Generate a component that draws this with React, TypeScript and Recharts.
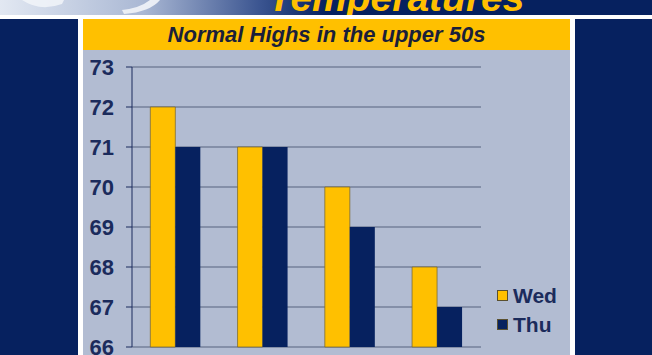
import { Bar, BarChart, CartesianGrid, Legend, ReferenceLine, XAxis, YAxis } from "recharts";

// four forecast points (no labels shown on the slide)
const stations = ["A", "B", "C", "D"];
const wedHighs = [72, 71, 70, 68];
const thuHighs = [71, 71, 69, 67];
const seriesOrder = ["Wed", "Thu"];
const yTicks = [66, 67, 68, 69, 70, 71, 72, 73];
const edgeTicks = [0, 1, 2, 3, 4];

const NAVY = "#06215f";
const GOLD = "#ffc000";
const PANEL = "#b2bcd2";
const INK = "#1b2b5c";
const FONT = "'Liberation Sans', Arial, sans-serif";

const rows = stations.map((name, i) => ({ name, wed: wedHighs[i], thu: thuHighs[i] }));

function DayLegend({ payload }: { payload?: { value: string; color: string }[] }) {
  const items = [...(payload ?? [])].sort((a, b) => seriesOrder.indexOf(a.value) - seriesOrder.indexOf(b.value));
  return (
    <div style={{ display: "flex", flexDirection: "column" }}>
      {items.map((p) => (
        <div key={p.value} style={{ display: "flex", alignItems: "center", height: 29 }}>
          <span
            style={{
              width: 11,
              height: 11,
              background: p.color,
              border: "1px solid #5a5030",
              boxSizing: "border-box",
            }}
          />
          <span style={{ marginLeft: 5, fontFamily: FONT, fontWeight: 700, fontSize: 21, color: INK }}>{p.value}</span>
        </div>
      ))}
    </div>
  );
}

export default function App() {
  return (
    <div style={{ position: "absolute", left: 0, top: 0, width: 652, height: 355, background: NAVY, overflow: "hidden" }}>
      {/* header strip with cut-off slide title */}
      <svg width={652} height={16} style={{ position: "absolute", left: 0, top: 0 }}>
        <defs>
          <linearGradient id="hdr" x1="0" x2="1" y1="0" y2="0">
            <stop offset="0" stopColor="#e2e8f2" />
            <stop offset="0.22" stopColor="#aab8d4" />
            <stop offset="0.4" stopColor="#3a5490" />
            <stop offset="0.5" stopColor={NAVY} />
            <stop offset="1" stopColor={NAVY} />
          </linearGradient>
        </defs>
        <rect width={652} height={16} fill="url(#hdr)" />
        <path d="M22 0 Q40 12 62 4 L64 0 Z" fill="#f4f6fa" opacity={0.8} />
        <path d="M124 14 Q150 12 160 0 L150 0 Q140 8 122 10 Z" fill="#f2f4f8" opacity={0.9} />
        <text x={268} y={11} fill={GOLD} fontFamily={FONT} fontWeight={700} fontStyle="italic" fontSize={39}>
          Temperatures
        </text>
      </svg>
      <div style={{ position: "absolute", left: 0, top: 15, width: 652, height: 4, background: "#ffffff" }} />
      <div style={{ position: "absolute", left: 78, top: 15, width: 497, height: 340, background: "#ffffff" }} />
      {/* yellow banner */}
      <div
        style={{
          position: "absolute",
          left: 83,
          top: 19,
          width: 487,
          height: 31,
          background: GOLD,
          display: "flex",
          alignItems: "center",
          justifyContent: "center",
          fontFamily: FONT,
          fontWeight: 700,
          fontStyle: "italic",
          fontSize: 22,
          color: "#1a1f3a",
        }}
      >
        Normal Highs in the upper 50s
      </div>
      <div style={{ position: "absolute", left: 83, top: 50, width: 487, height: 305, background: PANEL }}>
        <BarChart
          width={487}
          height={305}
          data={rows}
          margin={{ top: 17, right: 89, bottom: 0, left: 0 }}
          barCategoryGap="21%"
          barGap={0}
        >
          <CartesianGrid horizontal vertical={false} stroke="#56627f" strokeWidth={1} />
          <XAxis xAxisId="cat" dataKey="name" hide />
          <XAxis
            xAxisId="edge"
            type="number"
            domain={[0, 4]}
            ticks={edgeTicks}
            height={8}
            tick={false}
            tickSize={7}
            axisLine={{ stroke: INK }}
            tickLine={{ stroke: INK }}
          />
          <YAxis
            domain={[66, 73]}
            ticks={yTicks}
            interval={0}
            width={49}
            tickSize={6}
            tickMargin={12}
            axisLine={{ stroke: INK }}
            tickLine={{ stroke: INK }}
            tick={{ fill: INK, fontFamily: FONT, fontWeight: 700, fontSize: 22 }}
          />
          <ReferenceLine xAxisId="edge" x={4} stroke="#56627f" />
          <Legend
            layout="horizontal"
            verticalAlign="middle"
            align="center"
            content={<DayLegend />}
            wrapperStyle={{ left: 414, top: 231, width: "auto" }}
          />
          <Bar xAxisId="cat" dataKey="wed" name="Wed" fill={GOLD} stroke="#7a6830" strokeWidth={0.75} isAnimationActive={false} />
          <Bar xAxisId="cat" dataKey="thu" name="Thu" fill={NAVY} isAnimationActive={false} />
        </BarChart>
      </div>
    </div>
  );
}
